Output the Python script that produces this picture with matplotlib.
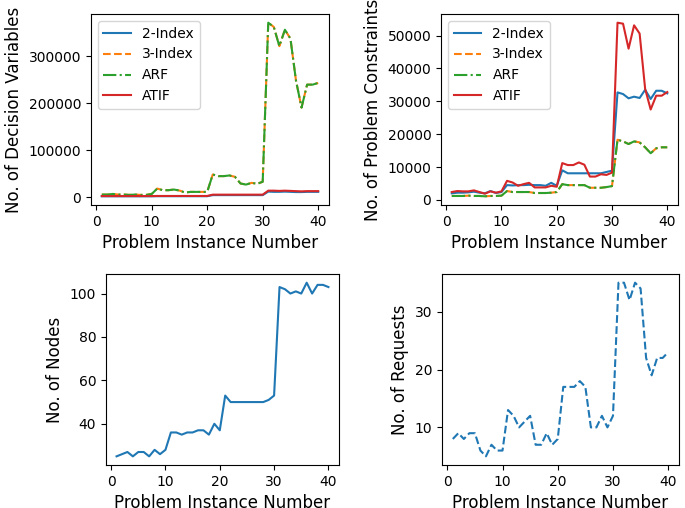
import numpy as np
import matplotlib
matplotlib.use("Agg")
import matplotlib.pyplot as plt

instances = np.arange(1, 41)

# decision variables per formulation
vars_2index = [2000, 2000, 2000, 2000, 2000, 2000, 2000, 2000, 2000, 2000,
               2200, 2200, 2200, 2200, 2200, 2200, 2200, 2200, 2200, 2200,
               4500, 4500, 4500, 4500, 4500, 4500, 4500, 4500, 4500, 4500,
               12000, 11500, 11500, 12000, 11500, 11000, 11000, 11500, 11500, 11500]
vars_3index = [5700, 5700, 7000, 5700, 5700, 5000, 5700, 5000, 5000, 7000,
               18500, 15000, 15000, 16400, 14300, 10000, 11400, 11400, 11400, 11400,
               48500, 45000, 45000, 46400, 43500, 29300, 27000, 30700, 28600, 33000,
               372000, 363000, 322000, 357000, 338000, 248600, 191000, 240000, 240000, 243600]
vars_arf = list(vars_3index)
vars_atif = [2500, 2500, 2500, 2500, 2500, 2500, 2500, 2500, 2500, 2500,
             2700, 2700, 2700, 2700, 2700, 2700, 2700, 2700, 2700, 2700,
             5500, 5500, 5500, 5500, 5500, 5500, 5500, 5500, 5500, 5500,
             14000, 14000, 13500, 14000, 13500, 13000, 12500, 13000, 13000, 13000]

# problem constraints per formulation
cons_2index = [2000, 2200, 2200, 2300, 2500, 2200, 2000, 2700, 2100, 2400,
               4500, 4400, 4500, 4500, 4600, 4500, 4500, 4300, 5200, 4300,
               9000, 8100, 8100, 8100, 8100, 8100, 8100, 8100, 8500, 8900,
               32700, 32200, 30900, 31400, 31000, 33500, 30700, 33200, 33200, 32400]
cons_3index = [1200, 1200, 1200, 1300, 1200, 1200, 1100, 1200, 1200, 1300,
               2700, 2400, 2400, 2400, 2400, 2100, 2100, 2100, 2200, 2400,
               4800, 4500, 4500, 4500, 4500, 3700, 3700, 3700, 3900, 4200,
               18300, 17800, 17000, 17800, 17500, 16000, 14200, 15700, 16000, 16000]
cons_arf = list(cons_3index)
cons_atif = [2400, 2700, 2600, 2600, 2900, 2400, 1900, 2600, 2200, 2600,
             5800, 5300, 4300, 4800, 5200, 3800, 3800, 3800, 4300, 4000,
             11200, 10600, 10600, 11400, 10700, 7100, 7100, 7800, 7600, 8300,
             53900, 53600, 46000, 53100, 50600, 33800, 27500, 31700, 31700, 32800]

nodes = [25, 26, 27, 25, 27, 27, 25, 28, 26, 28,
         36, 36, 35, 36, 36, 37, 37, 35, 40, 37,
         53, 50, 50, 50, 50, 50, 50, 50, 51, 53,
         103, 102, 100, 101, 100, 105, 100, 104, 104, 103]
requests = [8, 9, 8, 9, 9, 6, 5, 7, 6, 6,
            13, 12, 10, 11, 12, 7, 7, 9, 7, 8,
            17, 17, 17, 18, 17, 10, 10, 12, 10, 12,
            35, 35, 32, 35, 34, 22, 19, 22, 22, 23]

fig, axes = plt.subplots(2, 2, figsize=(6.85, 5.08), dpi=100)
ax1, ax2, ax3, ax4 = axes[0, 0], axes[0, 1], axes[1, 0], axes[1, 1]

ax1.plot(instances, vars_2index, label="2-Index")
ax1.plot(instances, vars_3index, "--", label="3-Index")
ax1.plot(instances, vars_arf, "-.", label="ARF")
ax1.plot(instances, vars_atif, label="ATIF")
ax1.set_ylabel("No. of Decision Variables", fontsize=12)
ax1.legend(loc="upper left", fontsize=10)

ax2.plot(instances, cons_2index, label="2-Index")
ax2.plot(instances, cons_3index, "--", label="3-Index")
ax2.plot(instances, cons_arf, "-.", label="ARF")
ax2.plot(instances, cons_atif, label="ATIF")
ax2.set_ylabel("No. of Problem Constraints", fontsize=12)
ax2.legend(loc="upper left", fontsize=10)

ax3.plot(instances, nodes)
ax3.set_ylabel("No. of Nodes", fontsize=12)

ax4.plot(instances, requests, "--")
ax4.set_ylabel("No. of Requests", fontsize=12)

for ax in (ax1, ax2, ax3, ax4):
    ax.set_xlabel("Problem Instance Number", fontsize=12)
    ax.set_xticks([0, 10, 20, 30, 40])

ax1.set_position([0.1328, 0.5965, 0.3475, 0.3759])
ax2.set_position([0.6438, 0.5965, 0.3460, 0.3759])
ax3.set_position([0.1547, 0.0846, 0.3402, 0.3760])
ax4.set_position([0.6453, 0.0846, 0.3459, 0.3760])

plt.savefig("out.png")
